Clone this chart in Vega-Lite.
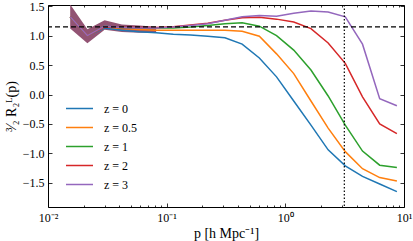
{
  "$schema": "https://vega.github.io/schema/vega-lite/v6.json",
  "width": 356,
  "height": 202,
  "autosize": "none",
  "padding": {"left": 48, "top": 5, "right": 9, "bottom": 34},
  "background": "white",
  "config": {
    "view": {"stroke": "black", "strokeWidth": 1},
    "font": "Liberation Serif",
    "axis": {
      "grid": false,
      "domain": false,
      "tickColor": "black",
      "tickWidth": 0.8,
      "labelColor": "black",
      "labelFont": "Liberation Serif",
      "labelFontSize": 12,
      "titleFont": "Liberation Serif",
      "titleFontSize": 14,
      "titleFontWeight": "normal",
      "titleColor": "black"
    }
  },
  "datasets": {
    "lines": [
      {"p": 0.01538, "z": "0", "v": 1.32}, {"p": 0.02148, "z": "0", "v": 1.0}, {"p": 0.03, "z": "0", "v": 1.13}, {"p": 0.04188, "z": "0", "v": 1.09}, {"p": 0.05848, "z": "0", "v": 1.065}, {"p": 0.08155, "z": "0", "v": 1.05}, {"p": 0.1138, "z": "0", "v": 1.025}, {"p": 0.1589, "z": "0", "v": 1.01}, {"p": 0.2218, "z": "0", "v": 0.99}, {"p": 0.3097, "z": "0", "v": 0.965}, {"p": 0.4325, "z": "0", "v": 0.855}, {"p": 0.6039, "z": "0", "v": 0.62}, {"p": 0.8433, "z": "0", "v": 0.3}, {"p": 1.177, "z": "0", "v": -0.11}, {"p": 1.644, "z": "0", "v": -0.52}, {"p": 2.295, "z": "0", "v": -0.94}, {"p": 3.2, "z": "0", "v": -1.21}, {"p": 4.47, "z": "0", "v": -1.39}, {"p": 6.24, "z": "0", "v": -1.52}, {"p": 8.71, "z": "0", "v": -1.65},
      {"p": 0.01538, "z": "0.5", "v": 1.32}, {"p": 0.02148, "z": "0.5", "v": 1.0}, {"p": 0.03, "z": "0.5", "v": 1.15}, {"p": 0.04188, "z": "0.5", "v": 1.12}, {"p": 0.05848, "z": "0.5", "v": 1.105}, {"p": 0.08155, "z": "0.5", "v": 1.09}, {"p": 0.1138, "z": "0.5", "v": 1.09}, {"p": 0.1589, "z": "0.5", "v": 1.09}, {"p": 0.2218, "z": "0.5", "v": 1.09}, {"p": 0.3097, "z": "0.5", "v": 1.09}, {"p": 0.4325, "z": "0.5", "v": 1.075}, {"p": 0.6039, "z": "0.5", "v": 0.99}, {"p": 0.8433, "z": "0.5", "v": 0.69}, {"p": 1.177, "z": "0.5", "v": 0.355}, {"p": 1.644, "z": "0.5", "v": -0.11}, {"p": 2.295, "z": "0.5", "v": -0.57}, {"p": 3.2, "z": "0.5", "v": -0.97}, {"p": 4.47, "z": "0.5", "v": -1.26}, {"p": 6.24, "z": "0.5", "v": -1.41}, {"p": 8.71, "z": "0.5", "v": -1.47},
      {"p": 0.01538, "z": "1", "v": 1.32}, {"p": 0.02148, "z": "1", "v": 1.0}, {"p": 0.03, "z": "1", "v": 1.16}, {"p": 0.04188, "z": "1", "v": 1.135}, {"p": 0.05848, "z": "1", "v": 1.13}, {"p": 0.08155, "z": "1", "v": 1.13}, {"p": 0.1138, "z": "1", "v": 1.13}, {"p": 0.1589, "z": "1", "v": 1.145}, {"p": 0.2218, "z": "1", "v": 1.17}, {"p": 0.3097, "z": "1", "v": 1.2}, {"p": 0.4325, "z": "1", "v": 1.22}, {"p": 0.6039, "z": "1", "v": 1.16}, {"p": 0.8433, "z": "1", "v": 1.0}, {"p": 1.177, "z": "1", "v": 0.755}, {"p": 1.644, "z": "1", "v": 0.415}, {"p": 2.295, "z": "1", "v": -0.025}, {"p": 3.2, "z": "1", "v": -0.52}, {"p": 4.47, "z": "1", "v": -0.96}, {"p": 6.24, "z": "1", "v": -1.2}, {"p": 8.71, "z": "1", "v": -1.24},
      {"p": 0.01538, "z": "2", "v": 1.32}, {"p": 0.02148, "z": "2", "v": 1.0}, {"p": 0.03, "z": "2", "v": 1.15}, {"p": 0.04188, "z": "2", "v": 1.14}, {"p": 0.05848, "z": "2", "v": 1.14}, {"p": 0.08155, "z": "2", "v": 1.14}, {"p": 0.1138, "z": "2", "v": 1.15}, {"p": 0.1589, "z": "2", "v": 1.18}, {"p": 0.2218, "z": "2", "v": 1.21}, {"p": 0.3097, "z": "2", "v": 1.26}, {"p": 0.4325, "z": "2", "v": 1.305}, {"p": 0.6039, "z": "2", "v": 1.31}, {"p": 0.8433, "z": "2", "v": 1.28}, {"p": 1.177, "z": "2", "v": 1.23}, {"p": 1.644, "z": "2", "v": 1.12}, {"p": 2.295, "z": "2", "v": 0.875}, {"p": 3.2, "z": "2", "v": 0.53}, {"p": 4.47, "z": "2", "v": -0.04}, {"p": 6.24, "z": "2", "v": -0.5}, {"p": 8.71, "z": "2", "v": -0.665},
      {"p": 0.01538, "z": "3", "v": 1.32}, {"p": 0.02148, "z": "3", "v": 1.0}, {"p": 0.03, "z": "3", "v": 1.16}, {"p": 0.04188, "z": "3", "v": 1.14}, {"p": 0.05848, "z": "3", "v": 1.13}, {"p": 0.08155, "z": "3", "v": 1.13}, {"p": 0.1138, "z": "3", "v": 1.145}, {"p": 0.1589, "z": "3", "v": 1.17}, {"p": 0.2218, "z": "3", "v": 1.2}, {"p": 0.3097, "z": "3", "v": 1.26}, {"p": 0.4325, "z": "3", "v": 1.32}, {"p": 0.6039, "z": "3", "v": 1.34}, {"p": 0.8433, "z": "3", "v": 1.33}, {"p": 1.177, "z": "3", "v": 1.38}, {"p": 1.644, "z": "3", "v": 1.42}, {"p": 2.295, "z": "3", "v": 1.4}, {"p": 3.2, "z": "3", "v": 1.32}, {"p": 4.47, "z": "3", "v": 0.855}, {"p": 6.24, "z": "3", "v": -0.07}, {"p": 8.71, "z": "3", "v": -0.19}
    ],
    "band": [
      {"p": 0.01538, "lo": 1.12, "hi": 1.53},
      {"p": 0.02148, "lo": 0.87, "hi": 1.11},
      {"p": 0.03, "lo": 1.1, "hi": 1.26},
      {"p": 0.04188, "lo": 1.06, "hi": 1.19},
      {"p": 0.05848, "lo": 1.05, "hi": 1.17},
      {"p": 0.08155, "lo": 1.05, "hi": 1.15}
    ],
    "refs": [{"yref": 1.15, "xref": 3.14159}]
  },
  "resolve": {"axis": {"x": "independent", "y": "independent"}},
  "layer": [
    {
      "data": {"name": "band"},
      "mark": {"type": "area", "color": "#8c4a6c", "opacity": 0.95, "clip": true},
      "encoding": {
        "x": {
          "field": "p", "type": "quantitative",
          "scale": {"type": "log", "domain": [0.01, 10], "nice": false},
          "axis": {
            "orient": "bottom",
            "title": "p [h Mpc⁻¹]",
            "titlePadding": 3,
            "values": [0.01, 0.02, 0.03, 0.04, 0.05, 0.06, 0.07, 0.08, 0.09, 0.1, 0.2, 0.3, 0.4, 0.5, 0.6, 0.7, 0.8, 0.9, 1, 2, 3, 4, 5, 6, 7, 8, 9, 10],
            "labelExpr": "datum.value == 0.01 ? '10⁻²' : datum.value == 0.1 ? '10⁻¹' : datum.value == 1 ? '10⁰' : datum.value == 10 ? '10¹' : ''",
            "tickSize": {"condition": {"test": "datum.value == 0.01 || datum.value == 0.1 || datum.value == 1 || datum.value == 10", "value": -4}, "value": -2},
            "labelPadding": 9,
            "labelFlush": false
          }
        },
        "y": {
          "field": "lo", "type": "quantitative",
          "scale": {"domain": [-1.91, 1.52], "nice": false, "zero": false},
          "axis": {
            "orient": "left",
            "title": "³⁄₂ R₂ᴸ(p)",
            "titlePadding": 4,
            "values": [-1.5, -1.0, -0.5, 0.0, 0.5, 1.0, 1.5],
            "format": ".1f",
            "tickSize": -4,
            "labelPadding": 8
          }
        },
        "y2": {"field": "hi"}
      }
    },
    {
      "data": {"name": "lines"},
      "mark": {"type": "line", "strokeWidth": 1.5, "clip": true},
      "encoding": {
        "x": {
          "field": "p", "type": "quantitative",
          "axis": {
            "orient": "top",
            "title": null,
            "labels": false,
            "values": [0.01, 0.02, 0.03, 0.04, 0.05, 0.06, 0.07, 0.08, 0.09, 0.1, 0.2, 0.3, 0.4, 0.5, 0.6, 0.7, 0.8, 0.9, 1, 2, 3, 4, 5, 6, 7, 8, 9, 10],
            "tickSize": {"condition": {"test": "datum.value == 0.01 || datum.value == 0.1 || datum.value == 1 || datum.value == 10", "value": -4}, "value": -2}
          }
        },
        "y": {
          "field": "v", "type": "quantitative",
          "axis": {
            "orient": "right",
            "title": null,
            "labels": false,
            "values": [-1.5, -1.0, -0.5, 0.0, 0.5, 1.0, 1.5],
            "tickSize": -4
          }
        },
        "color": {
          "field": "z", "type": "nominal",
          "scale": {"domain": ["0", "0.5", "1", "2", "3"], "range": ["#1f77b4", "#ff7f0e", "#2ca02c", "#d62728", "#9467bd"]},
          "legend": {
            "orient": "none",
            "legendX": 24,
            "legendY": 96,
            "padding": 0,
            "title": null,
            "symbolType": "M-2,0H2",
            "symbolSize": 182,
            "symbolStrokeWidth": 1.5,
            "rowPadding": 5,
            "labelOffset": 17,
            "labelFont": "Liberation Serif",
            "labelFontSize": 12,
            "labelColor": "black",
            "labelExpr": "'z = ' + datum.label"
          }
        }
      }
    },
    {
      "data": {"name": "refs"},
      "mark": {"type": "rule", "color": "black", "strokeWidth": 1.2, "strokeDash": [5, 3]},
      "encoding": {
        "y": {"field": "yref", "type": "quantitative", "axis": null}
      }
    },
    {
      "data": {"name": "refs"},
      "mark": {"type": "rule", "color": "black", "strokeWidth": 1.2, "strokeDash": [1.5, 2]},
      "encoding": {
        "x": {"field": "xref", "type": "quantitative", "axis": null}
      }
    }
  ]
}
